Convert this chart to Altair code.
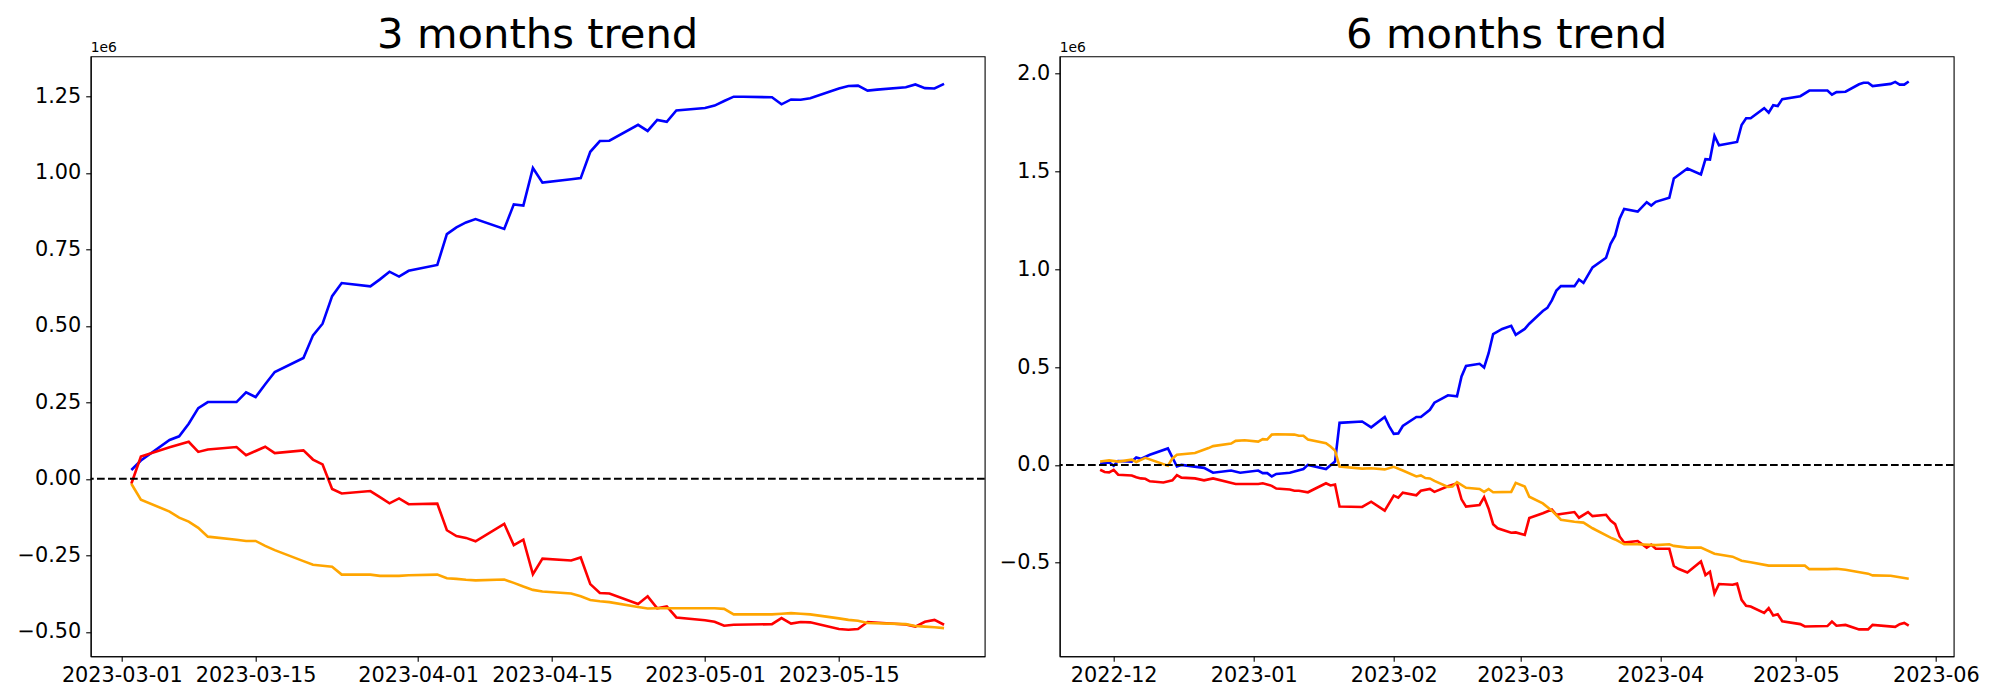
import altair as alt
import pandas as pd

# ---------------- data (values in units of 1e6) ----------------
SCALE = 1e6

# 3 months panel
L_BLUE_DATES = ["2023-03-02","2023-03-03","2023-03-06","2023-03-07","2023-03-08","2023-03-09","2023-03-10",
    "2023-03-13","2023-03-14","2023-03-15","2023-03-16","2023-03-17","2023-03-20","2023-03-21","2023-03-22",
    "2023-03-23","2023-03-24","2023-03-27","2023-03-28","2023-03-29","2023-03-30","2023-03-31","2023-04-03",
    "2023-04-04","2023-04-05","2023-04-06","2023-04-07","2023-04-10","2023-04-11","2023-04-12","2023-04-13",
    "2023-04-14","2023-04-17","2023-04-18","2023-04-19","2023-04-20","2023-04-21","2023-04-24","2023-04-25",
    "2023-04-26","2023-04-27","2023-04-28","2023-05-01","2023-05-02","2023-05-03","2023-05-04","2023-05-05",
    "2023-05-08","2023-05-09","2023-05-10","2023-05-11","2023-05-12","2023-05-15","2023-05-16","2023-05-17",
    "2023-05-18","2023-05-19","2023-05-22","2023-05-23","2023-05-24","2023-05-25","2023-05-26"]
L_BLUE_VALUES = [0.029,0.060,0.127,0.139,0.180,0.231,0.251,
    0.251,0.283,0.267,0.309,0.349,0.395,0.469,0.507,
    0.597,0.640,0.629,0.652,0.677,0.661,0.680,0.699,
    0.800,0.822,0.838,0.849,0.817,0.897,0.893,1.016,
    0.968,0.979,0.983,1.069,1.104,1.105,1.157,1.137,
    1.173,1.167,1.204,1.212,1.220,1.235,1.249,1.249,
    1.247,1.224,1.240,1.239,1.244,1.276,1.284,1.285,
    1.269,1.272,1.280,1.289,1.277,1.276,1.291]

L_RED_DATES = ["2023-03-02","2023-03-03","2023-03-06","2023-03-07","2023-03-08","2023-03-09","2023-03-10",
    "2023-03-13","2023-03-14","2023-03-15","2023-03-16","2023-03-17","2023-03-20","2023-03-21","2023-03-22",
    "2023-03-23","2023-03-24","2023-03-27","2023-03-28","2023-03-29","2023-03-30","2023-03-31","2023-04-03",
    "2023-04-04","2023-04-05","2023-04-06","2023-04-07","2023-04-10","2023-04-11","2023-04-12","2023-04-13",
    "2023-04-14","2023-04-17","2023-04-18","2023-04-19","2023-04-20","2023-04-21","2023-04-24","2023-04-25",
    "2023-04-26","2023-04-27","2023-04-28","2023-05-01","2023-05-02","2023-05-03","2023-05-04",
    "2023-05-08","2023-05-09","2023-05-10","2023-05-11","2023-05-12","2023-05-15","2023-05-16","2023-05-17",
    "2023-05-18","2023-05-22","2023-05-23","2023-05-24","2023-05-25","2023-05-26"]
L_RED_VALUES = [-0.016,0.073,0.103,0.112,0.121,0.088,0.096,
    0.104,0.077,0.091,0.105,0.084,0.093,0.063,0.047,
    -0.033,-0.048,-0.040,-0.060,-0.080,-0.064,-0.083,-0.081,
    -0.168,-0.187,-0.193,-0.204,-0.147,-0.217,-0.199,-0.312,
    -0.261,-0.267,-0.257,-0.344,-0.373,-0.375,-0.409,-0.384,
    -0.423,-0.417,-0.453,-0.462,-0.467,-0.480,-0.477,
    -0.475,-0.455,-0.473,-0.468,-0.469,-0.491,-0.493,-0.491,
    -0.468,-0.476,-0.483,-0.467,-0.461,-0.477]

L_ORANGE_DATES = ["2023-03-02","2023-03-03","2023-03-06","2023-03-07","2023-03-08","2023-03-09","2023-03-10",
    "2023-03-13","2023-03-14","2023-03-15","2023-03-16","2023-03-17","2023-03-20","2023-03-21","2023-03-22",
    "2023-03-23","2023-03-24","2023-03-27","2023-03-28","2023-03-29","2023-03-30","2023-03-31","2023-04-03",
    "2023-04-04","2023-04-05","2023-04-06","2023-04-07","2023-04-10","2023-04-11","2023-04-12","2023-04-13",
    "2023-04-14","2023-04-17","2023-04-18","2023-04-19","2023-04-20","2023-04-21","2023-04-24","2023-04-25",
    "2023-04-26","2023-04-27","2023-04-28","2023-05-01","2023-05-02","2023-05-03","2023-05-04",
    "2023-05-08","2023-05-09","2023-05-10","2023-05-11","2023-05-12","2023-05-15","2023-05-16","2023-05-17",
    "2023-05-18","2023-05-22","2023-05-23","2023-05-24","2023-05-25","2023-05-26"]
L_ORANGE_VALUES = [-0.016,-0.068,-0.107,-0.127,-0.140,-0.160,-0.189,
    -0.199,-0.203,-0.203,-0.219,-0.233,-0.269,-0.281,-0.284,
    -0.287,-0.313,-0.313,-0.317,-0.317,-0.317,-0.315,-0.313,
    -0.325,-0.327,-0.330,-0.332,-0.329,-0.340,-0.352,-0.363,
    -0.368,-0.375,-0.384,-0.396,-0.400,-0.403,-0.419,-0.424,
    -0.423,-0.423,-0.423,-0.423,-0.423,-0.425,-0.443,
    -0.443,-0.441,-0.439,-0.441,-0.443,-0.456,-0.461,-0.464,
    -0.471,-0.475,-0.481,-0.483,-0.485,-0.488]

# 6 months panel
R_BLUE_DATES = ["2022-11-28","2022-11-30","2022-12-01","2022-12-02","2022-12-05","2022-12-06","2022-12-07",
    "2022-12-09","2022-12-13","2022-12-15","2022-12-16","2022-12-21","2022-12-23","2022-12-27","2022-12-29",
    "2023-01-02","2023-01-03","2023-01-04","2023-01-05","2023-01-06","2023-01-09","2023-01-12","2023-01-13",
    "2023-01-17","2023-01-19","2023-01-20","2023-01-25","2023-01-27","2023-01-30","2023-01-31","2023-02-01",
    "2023-02-02","2023-02-03","2023-02-06","2023-02-07","2023-02-09","2023-02-10","2023-02-13","2023-02-15",
    "2023-02-16","2023-02-17","2023-02-20","2023-02-21","2023-02-22","2023-02-23","2023-02-25","2023-02-27",
    "2023-02-28","2023-03-02","2023-03-03","2023-03-06","2023-03-07","2023-03-08","2023-03-09","2023-03-10",
    "2023-03-13","2023-03-14","2023-03-15","2023-03-17","2023-03-20","2023-03-21","2023-03-22","2023-03-23",
    "2023-03-24","2023-03-27","2023-03-29","2023-03-30","2023-03-31","2023-04-03","2023-04-04","2023-04-07",
    "2023-04-10","2023-04-11","2023-04-12","2023-04-13","2023-04-14","2023-04-18","2023-04-19","2023-04-20",
    "2023-04-21","2023-04-24","2023-04-25","2023-04-26","2023-04-27","2023-04-28","2023-05-02","2023-05-04",
    "2023-05-08","2023-05-09","2023-05-10","2023-05-12","2023-05-15","2023-05-16","2023-05-17","2023-05-18",
    "2023-05-22","2023-05-23","2023-05-24","2023-05-25","2023-05-26"]
R_BLUE_VALUES = [0.006,0.013,-0.004,0.020,0.017,0.038,0.031,
    0.052,0.084,-0.008,0.000,-0.015,-0.040,-0.029,-0.040,
    -0.029,-0.042,-0.042,-0.059,-0.046,-0.040,-0.021,0.000,
    -0.021,0.017,0.215,0.222,0.192,0.245,0.197,0.159,
    0.161,0.199,0.245,0.245,0.282,0.318,0.356,0.351,
    0.452,0.506,0.517,0.498,0.571,0.669,0.695,0.711,
    0.665,0.695,0.722,0.787,0.803,0.841,0.891,0.914,
    0.914,0.948,0.931,1.010,1.059,1.130,1.172,1.259,
    1.308,1.295,1.343,1.326,1.345,1.366,1.464,1.515,
    1.485,1.563,1.561,1.682,1.634,1.651,1.738,1.772,
    1.772,1.824,1.801,1.839,1.835,1.870,1.885,1.914,
    1.914,1.893,1.906,1.908,1.946,1.954,1.954,1.937,
    1.948,1.958,1.944,1.944,1.960]

R_RED_DATES = ["2022-11-28","2022-11-29","2022-11-30","2022-12-01","2022-12-02","2022-12-05","2022-12-06",
    "2022-12-07","2022-12-08","2022-12-09","2022-12-12","2022-12-14","2022-12-15","2022-12-16","2022-12-19",
    "2022-12-21","2022-12-23","2022-12-28","2023-01-02","2023-01-03","2023-01-05","2023-01-06","2023-01-09",
    "2023-01-10","2023-01-11","2023-01-13","2023-01-17","2023-01-18","2023-01-19","2023-01-20","2023-01-25",
    "2023-01-27","2023-01-30","2023-02-01","2023-02-02","2023-02-03","2023-02-06","2023-02-07","2023-02-09",
    "2023-02-10","2023-02-13","2023-02-15","2023-02-16","2023-02-17","2023-02-20","2023-02-21","2023-02-22",
    "2023-02-23","2023-02-24","2023-02-27","2023-02-28","2023-03-02","2023-03-03","2023-03-06","2023-03-08",
    "2023-03-09","2023-03-10","2023-03-13","2023-03-14","2023-03-16","2023-03-17","2023-03-20","2023-03-21",
    "2023-03-22","2023-03-23","2023-03-24","2023-03-27","2023-03-29","2023-03-30","2023-03-31","2023-04-03",
    "2023-04-04","2023-04-05","2023-04-07","2023-04-10","2023-04-11","2023-04-12","2023-04-13","2023-04-14",
    "2023-04-17","2023-04-18","2023-04-19","2023-04-20","2023-04-21","2023-04-24","2023-04-25","2023-04-26",
    "2023-04-27","2023-04-28","2023-05-02","2023-05-03","2023-05-08","2023-05-09","2023-05-10","2023-05-12",
    "2023-05-15","2023-05-17","2023-05-18","2023-05-23","2023-05-24","2023-05-25","2023-05-26"]
R_RED_VALUES = [-0.025,-0.036,-0.038,-0.025,-0.050,-0.054,-0.063,
    -0.069,-0.071,-0.084,-0.090,-0.079,-0.052,-0.065,-0.069,
    -0.079,-0.069,-0.098,-0.098,-0.094,-0.107,-0.121,-0.126,
    -0.132,-0.132,-0.140,-0.094,-0.105,-0.100,-0.213,-0.215,
    -0.188,-0.234,-0.157,-0.167,-0.142,-0.155,-0.132,-0.123,
    -0.138,-0.109,-0.094,-0.176,-0.213,-0.205,-0.165,-0.224,
    -0.303,-0.324,-0.347,-0.345,-0.358,-0.272,-0.247,-0.228,
    -0.255,-0.251,-0.241,-0.270,-0.241,-0.262,-0.255,-0.285,
    -0.303,-0.366,-0.397,-0.389,-0.423,-0.408,-0.429,-0.429,
    -0.517,-0.531,-0.550,-0.494,-0.563,-0.546,-0.657,-0.609,
    -0.613,-0.607,-0.690,-0.720,-0.724,-0.757,-0.732,-0.770,
    -0.764,-0.799,-0.814,-0.826,-0.824,-0.801,-0.822,-0.818,
    -0.841,-0.841,-0.818,-0.828,-0.814,-0.808,-0.822]

R_ORANGE_DATES = ["2022-11-28","2022-11-30","2022-12-02","2022-12-05","2022-12-06","2022-12-08","2022-12-13",
    "2022-12-14","2022-12-15","2022-12-19","2022-12-22","2022-12-23","2022-12-27","2022-12-28","2022-12-30",
    "2023-01-02","2023-01-03","2023-01-04","2023-01-05","2023-01-06","2023-01-10","2023-01-11","2023-01-12",
    "2023-01-13","2023-01-17","2023-01-18","2023-01-19","2023-01-20","2023-01-25","2023-01-27","2023-01-30",
    "2023-02-01","2023-02-03","2023-02-06","2023-02-07","2023-02-08","2023-02-09","2023-02-10","2023-02-13",
    "2023-02-14","2023-02-15","2023-02-17","2023-02-20","2023-02-21","2023-02-22","2023-02-23","2023-02-27",
    "2023-02-28","2023-03-02","2023-03-03","2023-03-06","2023-03-08","2023-03-10","2023-03-13","2023-03-15",
    "2023-03-17","2023-03-21","2023-03-22","2023-03-24","2023-03-27","2023-03-31","2023-04-03","2023-04-04",
    "2023-04-07","2023-04-10","2023-04-13","2023-04-17","2023-04-19","2023-04-21","2023-04-25","2023-05-03",
    "2023-05-04","2023-05-08","2023-05-10","2023-05-12","2023-05-17","2023-05-18","2023-05-22","2023-05-23",
    "2023-05-26"]
R_ORANGE_VALUES = [0.017,0.023,0.017,0.027,0.015,0.036,-0.004,
    0.033,0.052,0.061,0.086,0.096,0.109,0.123,0.126,
    0.119,0.132,0.130,0.155,0.157,0.155,0.149,0.149,
    0.130,0.111,0.094,0.073,-0.008,-0.019,-0.017,-0.023,
    -0.010,-0.029,-0.059,-0.054,-0.067,-0.069,-0.082,-0.113,
    -0.111,-0.088,-0.117,-0.123,-0.138,-0.123,-0.140,-0.138,
    -0.092,-0.111,-0.163,-0.197,-0.234,-0.280,-0.291,-0.295,
    -0.324,-0.372,-0.381,-0.406,-0.406,-0.410,-0.406,-0.414,
    -0.423,-0.423,-0.454,-0.469,-0.490,-0.498,-0.515,-0.515,
    -0.533,-0.533,-0.531,-0.536,-0.556,-0.565,-0.567,-0.571,
    -0.582]

L_TITLE = "3 months trend"
R_TITLE = "6 months trend"
L_YTICKS = [-0.5, -0.25, 0.0, 0.25, 0.5, 0.75, 1.0, 1.25]
R_YTICKS = [-0.5, 0.0, 0.5, 1.0, 1.5, 2.0]
L_XTICKS = ["2023-03-01", "2023-03-15", "2023-04-01", "2023-04-15", "2023-05-01", "2023-05-15"]
R_XTICKS = ["2022-12-01", "2023-01-01", "2023-02-01", "2023-03-01", "2023-04-01", "2023-05-01", "2023-06-01"]

SERIES_COLORS = {"blue": "#0000ff", "red": "#ff0000", "orange": "#ffa500"}

FONT = "DejaVu Sans"
W, H = 894, 600


def dt(s, hours=0, minutes=0):
    y, m, d = (int(p) for p in s.split("-"))
    return alt.DateTime(year=y, month=m, date=d, hours=hours, minutes=minutes)


def frame(dates, values):
    return pd.DataFrame({"date": pd.to_datetime(dates), "value": [v * SCALE for v in values]})


def panel(series, title, xdomain, xticks, xfmt, ydomain, yticks, yfmt):
    x = alt.X("date:T",
              scale=alt.Scale(domain=xdomain, nice=False),
              axis=alt.Axis(values=[dt(t) for t in xticks], format=xfmt, title=None, grid=False,
                            labelOverlap=False, labelFlush=False, labelPadding=4))
    y = alt.Y("value:Q",
              scale=alt.Scale(domain=[v * SCALE for v in ydomain], nice=False, zero=False),
              axis=alt.Axis(values=[v * SCALE for v in yticks],
                            labelExpr=f"format(datum.value / 1000000, '{yfmt}')",
                            title=None, grid=False, labelOverlap=False, labelFlush=False,
                            labelPadding=4.9))
    layers = []
    for name, (dates, vals) in series:
        layers.append(
            alt.Chart(frame(dates, vals)).mark_line(color=SERIES_COLORS[name], strokeWidth=2.6)
            .encode(x=x, y=y)
        )
    dummy = pd.DataFrame({"a": [0]})
    layers.append(
        alt.Chart(dummy).mark_rule(color="black", strokeWidth=2.0, strokeDash=[7.7, 3.3])
        .encode(y=alt.datum(0))
    )
    layers.append(
        alt.Chart(dummy).mark_text(font=FONT, fontSize=41.7, color="black", align="center",
                                   baseline="alphabetic")
        .encode(x=alt.value(W / 2), y=alt.value(-8.6), text=alt.value(title))
    )
    layers.append(
        alt.Chart(dummy).mark_text(font=FONT, fontSize=13.9, color="black", align="left",
                                   baseline="alphabetic")
        .encode(x=alt.value(0), y=alt.value(-4.6), text=alt.value("1e6"))
    )
    return alt.layer(*layers).properties(width=W, height=H)


left = panel(
    [("blue", (L_BLUE_DATES, L_BLUE_VALUES)),
     ("red", (L_RED_DATES, L_RED_VALUES)),
     ("orange", (L_ORANGE_DATES, L_ORANGE_VALUES))],
    L_TITLE,
    [alt.DateTime(year=2023, month=2, date=25, hours=18), alt.DateTime(year=2023, month=5, date=30, hours=6)],
    L_XTICKS, "%Y-%m-%d",
    [-0.580, 1.381], L_YTICKS, ".2f")

right = panel(
    [("blue", (R_BLUE_DATES, R_BLUE_VALUES)),
     ("red", (R_RED_DATES, R_RED_VALUES)),
     ("orange", (R_ORANGE_DATES, R_ORANGE_VALUES))],
    R_TITLE,
    [alt.DateTime(year=2022, month=11, date=19, hours=1, minutes=12),
     alt.DateTime(year=2023, month=6, date=4, hours=22, minutes=48)],
    R_XTICKS, "%Y-%m",
    [-0.9785, 2.089], R_YTICKS, ".1f")

chart = (
    alt.hconcat(left, right, spacing=75, bounds="flush")
    .properties(padding={"left": 7.7, "top": 5.3, "right": 5, "bottom": 5}, background="white")
    .configure_view(stroke="black", strokeWidth=1.1)
    .configure_axis(labelFont=FONT, labelFontSize=20.8, labelColor="black", tickColor="black",
                    tickSize=5, tickWidth=1.1, domainColor="black", domainWidth=1.1)
)

chart.save("out.html", embed_options={"renderer": "svg", "actions": False})
